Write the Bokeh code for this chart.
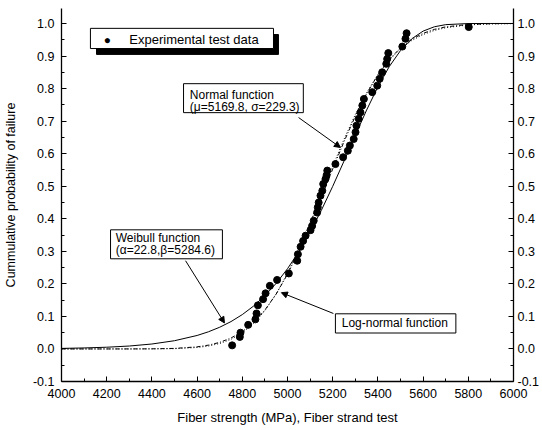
from bokeh.plotting import figure
from bokeh.models import (LinearAxis, FixedTicker, NumeralTickFormatter, Label,
                          BoxAnnotation, Arrow, NormalHead, ColumnDataSource)
from bokeh.embed import file_html
from bokeh.resources import INLINE

# ---- data ----
strength = [4755, 4789, 4792, 4826, 4858, 4863, 4869, 4892, 4903, 4922, 4954, 5006,
            5043, 5046, 5058, 5069, 5080, 5102, 5109, 5116, 5131, 5134, 5138, 5146,
            5154, 5158, 5168, 5173, 5176, 5212, 5246, 5267, 5276,
            5293, 5301, 5305, 5315, 5323, 5331, 5338, 5375, 5397, 5408, 5419,
            5437, 5441, 5446, 5508, 5522, 5527, 5802]
prob = [0.011, 0.037, 0.050, 0.074, 0.091, 0.109, 0.134, 0.153, 0.171, 0.194, 0.212, 0.232,
        0.271, 0.291, 0.314, 0.332, 0.348, 0.365, 0.378, 0.394, 0.419, 0.435, 0.450, 0.471,
        0.486, 0.507, 0.522, 0.534, 0.548, 0.568, 0.589, 0.609, 0.625,
        0.645, 0.666, 0.686, 0.707, 0.727, 0.748, 0.768, 0.789, 0.809, 0.830, 0.850,
        0.876, 0.891, 0.909, 0.929, 0.953, 0.970, 0.989]

curve_x = [4000, 4100, 4200, 4300, 4400, 4500, 4600, 4650, 4700, 4750, 4800, 4850,
           4900, 4950, 5000, 5050, 5100, 5150, 5200, 5250, 5300, 5350, 5400, 5450,
           5500, 5550, 5600, 5650, 5700, 5800, 5900, 6000]
normal_y = [0, 0, 0.00001, 0.0001, 0.0004, 0.0017, 0.0065, 0.0117, 0.0202, 0.0336, 0.0534, 0.0815,
            0.1196, 0.1688, 0.2294, 0.3007, 0.3805, 0.4657, 0.5525, 0.6368, 0.7150, 0.7841, 0.8423, 0.8892,
            0.9251, 0.9514, 0.9697, 0.9819, 0.9896, 0.9970, 0.9993, 0.9999]
weibull_y = [0.0017, 0.0031, 0.0053, 0.0090, 0.0152, 0.0253, 0.0414, 0.0527, 0.0667, 0.0841, 0.1056, 0.1318,
             0.1636, 0.2016, 0.2465, 0.2989, 0.3589, 0.4262, 0.4995, 0.5772, 0.6564, 0.7339, 0.8053, 0.8672,
             0.9168, 0.9530, 0.9765, 0.9899, 0.9964, 0.9998, 1.0, 1.0]
lognormal_y = [0, 0, 0, 0, 0.0002, 0.0009, 0.0045, 0.0090, 0.0168, 0.0295, 0.0493, 0.0781,
               0.1177, 0.1691, 0.2324, 0.3062, 0.3881, 0.4745, 0.5610, 0.6441, 0.7201, 0.7867, 0.8425, 0.8874,
               0.9220, 0.9477, 0.9660, 0.9786, 0.9869, 0.9956, 0.9987, 0.9996]

x_ticks = [4000, 4200, 4400, 4600, 4800, 5000, 5200, 5400, 5600, 5800, 6000]
x_minor = [4100, 4300, 4500, 4700, 4900, 5100, 5300, 5500, 5700, 5900]
y_ticks = [-0.1, 0.0, 0.1, 0.2, 0.3, 0.4, 0.5, 0.6, 0.7, 0.8, 0.9, 1.0]
y_minor = [-0.05, 0.05, 0.15, 0.25, 0.35, 0.45, 0.55, 0.65, 0.75, 0.85, 0.95]

FONT = "Liberation Sans"

p = figure(width=542, height=428, x_range=(4000, 6000), y_range=(-0.1, 1.046),
           output_backend="svg", toolbar_location=None,
           min_border_left=61, min_border_right=29, min_border_top=8, min_border_bottom=47)
p.xgrid.visible = False
p.ygrid.visible = False
p.outline_line_color = None
p.background_fill_color = "white"

right_axis = LinearAxis()
p.add_layout(right_axis, "right")


def style(ax, ticks, minor, fmt=None):
    ax.ticker = FixedTicker(ticks=ticks, minor_ticks=minor)
    ax.axis_line_color = "black"
    ax.axis_line_width = 1.3
    ax.major_tick_in = 5
    ax.major_tick_out = 0
    ax.minor_tick_in = 3
    ax.minor_tick_out = 0
    ax.major_tick_line_color = "black"
    ax.minor_tick_line_color = "black"
    ax.major_label_text_font = FONT
    ax.major_label_text_font_size = "12.5px"
    ax.major_label_text_color = "black"
    ax.axis_label_text_font = FONT
    ax.axis_label_text_font_size = "12.5px"
    ax.axis_label_text_font_style = "normal"
    ax.axis_label_text_color = "black"
    if fmt:
        ax.formatter = NumeralTickFormatter(format=fmt)


style(p.xaxis[0], x_ticks, x_minor)
style(p.yaxis[0], y_ticks, y_minor, "0.0")
style(right_axis, y_ticks, y_minor, "0.0")
p.xaxis[0].major_label_standoff = 7
p.xaxis[0].axis_label = "Fiber strength (MPa), Fiber strand test"
p.xaxis[0].axis_label_text_font_size = "13px"
p.xaxis[0].axis_label_standoff = 9
p.yaxis[0].major_label_standoff = 7
p.yaxis[0].axis_label = "Cummulative probability of failure"
p.yaxis[0].axis_label_standoff = 12
right_axis.major_label_standoff = 4

curves = ColumnDataSource(dict(x=curve_x, n=normal_y, w=weibull_y, l=lognormal_y))
p.line("x", "w", source=curves, line_color="black", line_width=1)
p.line("x", "n", source=curves, line_color="black", line_width=1, line_dash="4 2 1 2")
p.line("x", "l", source=curves, line_color="black", line_width=1, line_dash="1 2")

pts = ColumnDataSource(dict(x=strength, y=prob))
p.scatter("x", "y", source=pts, size=7, color="black")


def box(l, r, t, b, fill="white"):
    p.add_layout(BoxAnnotation(left=l, right=r, top=t, bottom=b, fill_color=fill,
                               fill_alpha=1, line_color="black", line_alpha=1, line_width=1))


def text(x, y, s, size="12px"):
    p.add_layout(Label(x=x, y=y, text=s, text_font=FONT, text_font_size=size,
                       text_baseline="middle", text_color="black"))


def arrow(x0, y0, x1, y1):
    p.add_layout(Arrow(end=NormalHead(size=6, fill_color="black", line_color="black"),
                       x_start=x0, y_start=y0, x_end=x1, y_end=y1, line_width=1,
                       line_color="black"))


# legend box with shadow
box(4155, 4960, 0.966, 0.905, fill="black")
box(4128, 4938, 0.985, 0.923)
p.add_layout(Label(x=4203, y=0.950, text="\u25cf", text_font=FONT, text_font_size="12px",
                   text_align="center", text_baseline="middle", text_color="black"))
text(4300, 0.950, "Experimental test data", "13px")

# Normal function box
box(4540, 5070, 0.815, 0.726)
text(4568, 0.779, "Normal function")
text(4568, 0.743, "(\u03bc=5169.8, \u03c3=229.3)")
arrow(5049, 0.711, 5234, 0.619)

# Weibull function box
box(4217, 4712, 0.366, 0.277)
text(4240, 0.340, "Weibull function")
text(4240, 0.303, "(\u03b1=22.8,\u03b2=5284.6)")
arrow(4549, 0.271, 4721, 0.080)

# Log-normal box
box(5212, 5745, 0.108, 0.049)
text(5240, 0.0785, "Log-normal function")
arrow(5203, 0.109, 4973, 0.173)

open("out.html", "w").write(file_html(p, INLINE))
